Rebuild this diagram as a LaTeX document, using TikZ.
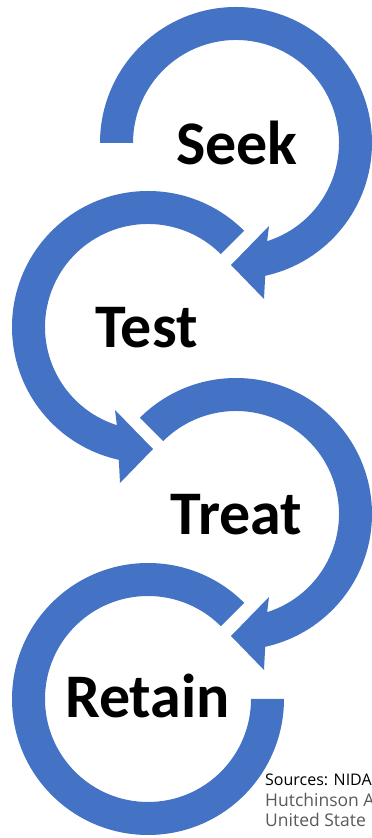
\documentclass[tikz,border=0pt]{standalone}
\usepackage{fontspec}
\setmainfont{Carlito}
\newfontfamily\srcfont{Open Sans}
\definecolor{arrowblue}{HTML}{4472C4}
\definecolor{srcgray}{HTML}{595959}
\begin{document}
\begin{tikzpicture}[x=1pt,y=1pt,
  band/.style={fill=arrowblue},
  stage/.style={font=\fontsize{62}{62}\selectfont\bfseries, anchor=base, inner sep=0pt},
  src/.style={font=\srcfont\fontsize{16}{16}\selectfont, anchor=base west, inner sep=0pt},
  srcg/.style={src, font=\srcfont\fontsize{17.5}{17.5}\selectfont, text=srcgray}]
\useasboundingbox (0,0) rectangle (372,838);
\clip (0,0) rectangle (372,838);
\coordinate (c1) at (236,695);
\coordinate (c2) at (148,511);
\coordinate (c3) at (236,324);
\coordinate (c4) at (148,139);
% Seek arrow
\begin{scope}[shift={(c1)}]
\fill[band] (180:136) arc[start angle=180,end angle=-77.6,radius=136]
  -- (28,-156) -- (-5,-122) -- (33,-83) -- (-72.4:103)
  arc[start angle=-72.4,end angle=180,radius=103] -- cycle;
\end{scope}
% Test arrow
\begin{scope}[shift={(c2)}]
\fill[band] (45:136) arc[start angle=45,end angle=257.6,radius=136]
  -- (-28,-156) -- (5,-122) -- (-33,-83) -- (252.4:103)
  arc[start angle=252.4,end angle=45,radius=103] -- cycle;
\end{scope}
% Treat arrow
\begin{scope}[shift={(c3)}]
\fill[band] (135:136) arc[start angle=135,end angle=-77.6,radius=136]
  -- (28,-156) -- (-5,-122) -- (33,-83) -- (-72.4:103)
  arc[start angle=-72.4,end angle=135,radius=103] -- cycle;
\end{scope}
% Retain ring
\begin{scope}[shift={(c4)}]
\fill[band] (45:136) arc[start angle=45,end angle=360,radius=136]
  -- (0:103) arc[start angle=360,end angle=45,radius=103] -- cycle;
\end{scope}
\node[stage] (seek) at (237,673) {Seek};
\node[stage] (test) at (146.5,490) {Test};
\node[stage] (treat) at (236.5,303) {Treat};
\node[stage] (retain) at (147.5,120) {Retain};
\node[src] (s1) at (265,52) {Sources: NIDA};
\node[srcg] (s2) at (265,31.5) {Hutchinson A};
\node[srcg] (s3) at (265,11) {United State};
\end{tikzpicture}
\end{document}
